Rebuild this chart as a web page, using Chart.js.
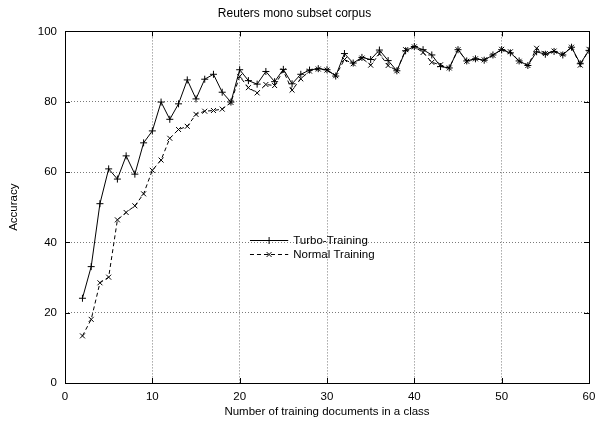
<!DOCTYPE html>
<html>
<head>
<meta charset="utf-8">
<title>Reuters mono subset corpus</title>
<script src="https://cdn.jsdelivr.net/npm/chart.js@4/dist/chart.umd.min.js"></script>
<style>
  html, body { margin: 0; padding: 0; background: #fff; }
  #wrap { width: 597px; height: 423px; position: relative; }
</style>
</head>
<body>
<div id="wrap"><canvas id="c"></canvas></div>
<script>
// Number of training documents per class
const docsPerClass = [2, 3, 4, 5, 6, 7, 8, 9, 10, 11, 12, 13, 14, 15, 16, 17, 18, 19, 20,
  21, 22, 23, 24, 25, 26, 27, 28, 29, 30, 31, 32, 33, 34, 35, 36, 37, 38, 39, 40,
  41, 42, 43, 44, 45, 46, 47, 48, 49, 50, 51, 52, 53, 54, 55, 56, 57, 58, 59, 60];

// Accuracy (%) with turbo training
const turboAccuracy = [24.1, 33.1, 51.0, 60.9, 58.0, 64.6, 59.4, 68.3, 71.7, 79.9, 75.0, 79.4, 86.2, 80.8, 86.4, 87.8, 82.7, 79.9, 89.1,
  86.0, 85.0, 88.6, 85.7, 89.2, 85.1, 87.8, 89.0, 89.4, 89.1, 87.3, 93.7, 91.0, 92.6, 92.0, 94.7, 91.7, 88.8, 94.5, 95.7,
  94.8, 93.3, 90.0, 89.6, 94.8, 91.6, 92.2, 91.8, 93.3, 94.8, 93.9, 91.6, 90.3, 94.2, 93.5, 94.3, 93.3, 95.5, 90.8, 94.6];

// Accuracy (%) with normal training
const normalAccuracy = [13.4, 18.1, 28.5, 30.1, 46.4, 48.5, 50.4, 53.8, 60.5, 63.4, 69.6, 72.1, 73.0, 76.4, 77.3, 77.5, 77.9, 79.8, 87.2,
  84.0, 82.5, 84.9, 84.6, 88.8, 83.3, 86.5, 88.7, 89.3, 89.0, 87.4, 92.0, 90.8, 92.4, 90.4, 93.6, 90.3, 88.8, 94.8, 95.6,
  94.0, 91.2, 90.5, 89.6, 94.8, 91.5, 92.2, 91.9, 93.2, 94.9, 94.2, 91.5, 90.3, 95.2, 93.7, 94.4, 93.5, 95.5, 90.4, 94.9];

const seriesNames = ['Turbo-Training', 'Normal Training'];
const xTicks = [0, 10, 20, 30, 40, 50, 60];
const yTicks = [0, 20, 40, 60, 80, 100];

const FONT = 'Liberation Sans, Arial, Helvetica, sans-serif';
const toPoints = (ys) => docsPerClass.map((x, i) => ({ x: x, y: ys[i] }));

// Plot frame with inward tick marks, drawn over the grid
const framePlugin = {
  id: 'frame',
  afterDatasetsDraw(chart) {
    const { ctx, chartArea: a, scales } = chart;
    ctx.save();
    ctx.strokeStyle = '#000';
    ctx.lineWidth = 1;
    ctx.setLineDash([]);
    ctx.strokeRect(Math.round(a.left) + 0.5, Math.round(a.top) + 0.5,
      Math.round(a.right - a.left), Math.round(a.bottom - a.top));
    const t = 5;
    ctx.beginPath();
    xTicks.forEach(v => {
      const px = Math.round(scales.x.getPixelForValue(v)) + 0.5;
      ctx.moveTo(px, a.bottom); ctx.lineTo(px, a.bottom - t);
      ctx.moveTo(px, a.top); ctx.lineTo(px, a.top + t);
    });
    yTicks.forEach(v => {
      const py = Math.round(scales.y.getPixelForValue(v)) + 0.5;
      ctx.moveTo(a.left, py); ctx.lineTo(a.left + t, py);
      ctx.moveTo(a.right, py); ctx.lineTo(a.right - t, py);
    });
    ctx.stroke();
    ctx.restore();
  }
};

// Key box placed inside the plot area
const keyPlugin = {
  id: 'key',
  afterDatasetsDraw(chart) {
    const { ctx, chartArea: a } = chart;
    const w = a.right - a.left, h = a.bottom - a.top;
    const x0 = a.left + w * 0.353, x1 = a.left + w * 0.426;
    const y0 = a.top + h * 0.594, gap = 14;
    ctx.save();
    chart.data.datasets.forEach((ds, i) => {
      const y = Math.round(y0 + i * gap) + 0.5;
      ctx.strokeStyle = ds.borderColor;
      ctx.lineWidth = ds.borderWidth;
      ctx.setLineDash(ds.borderDash || []);
      ctx.beginPath();
      ctx.moveTo(x0, y); ctx.lineTo(x1, y);
      ctx.stroke();
      ctx.setLineDash([]);
      ctx.strokeStyle = ds.pointBorderColor;
      ctx.lineWidth = ds.pointBorderWidth;
      Chart.helpers.drawPoint(ctx, { pointStyle: ds.pointStyle, radius: ds.pointRadius, borderWidth: ds.pointBorderWidth, rotation: 0 },
        (x0 + x1) / 2, y);
      ctx.fillStyle = '#000';
      ctx.font = '11.5px ' + FONT;
      ctx.textAlign = 'left';
      ctx.textBaseline = 'middle';
      ctx.fillText(ds.label, x1 + 5, y);
    });
    ctx.restore();
  }
};

const gridColor = (c) => (c.tick && (c.index === 0 || c.index === c.chart.scales[c.scale.id].ticks.length - 1))
  ? 'rgba(0,0,0,0)' : '#7a7a7a';

new Chart(document.getElementById('c'), {
  type: 'line',
  data: {
    datasets: [
      {
        label: seriesNames[0],
        data: toPoints(turboAccuracy),
        borderColor: '#000',
        borderWidth: 1,
        pointStyle: 'cross',
        pointRadius: 3.5,
        pointBorderWidth: 1,
        pointBorderColor: '#000',
        pointBackgroundColor: '#000',
        tension: 0,
        fill: false
      },
      {
        label: seriesNames[1],
        data: toPoints(normalAccuracy),
        borderColor: '#000',
        borderWidth: 1,
        borderDash: [4, 3],
        pointStyle: 'crossRot',
        pointRadius: 3.5,
        pointBorderWidth: 1,
        pointBorderColor: '#000',
        pointBackgroundColor: '#000',
        tension: 0,
        fill: false
      }
    ]
  },
  options: {
    responsive: true,
    maintainAspectRatio: false,
    animation: false,
    events: [],
    layout: { padding: { left: 0, right: 8, top: 0, bottom: 0 } },
    plugins: {
      legend: { display: false },
      tooltip: { enabled: false },
      title: {
        display: true,
        text: 'Reuters mono subset corpus',
        color: '#000',
        font: { family: FONT, size: 12, weight: 'normal' },
        padding: { top: 6, bottom: 11 }
      }
    },
    scales: {
      x: {
        type: 'linear',
        min: 0, max: 60,
        afterBuildTicks: (s) => { s.ticks = xTicks.map(v => ({ value: v })); },
        afterFit: (s) => { s.height = 40; s.paddingLeft = 0; s.paddingRight = 0; },
        ticks: { color: '#000', padding: 7, font: { family: FONT, size: 11.5 } },
        grid: { color: gridColor, lineWidth: 1, drawTicks: false },
        border: { display: false, dash: [1, 2] },
        title: {
          display: true,
          text: 'Number of training documents in a class',
          color: '#000',
          font: { family: FONT, size: 11.5 },
          padding: { top: 0, bottom: 4 }
        }
      },
      y: {
        type: 'linear',
        min: 0, max: 100,
        afterBuildTicks: (s) => { s.ticks = yTicks.map(v => ({ value: v })); },
        afterFit: (s) => { s.width = 65; },
        ticks: { color: '#000', padding: 8, font: { family: FONT, size: 11.5 } },
        grid: { color: gridColor, lineWidth: 1, drawTicks: false },
        border: { display: false, dash: [1, 2] },
        title: {
          display: true,
          text: 'Accuracy',
          color: '#000',
          font: { family: FONT, size: 11.5 },
          padding: { top: 7, bottom: 0 }
        }
      }
    }
  },
  plugins: [framePlugin, keyPlugin]
});
</script>
</body>
</html>
